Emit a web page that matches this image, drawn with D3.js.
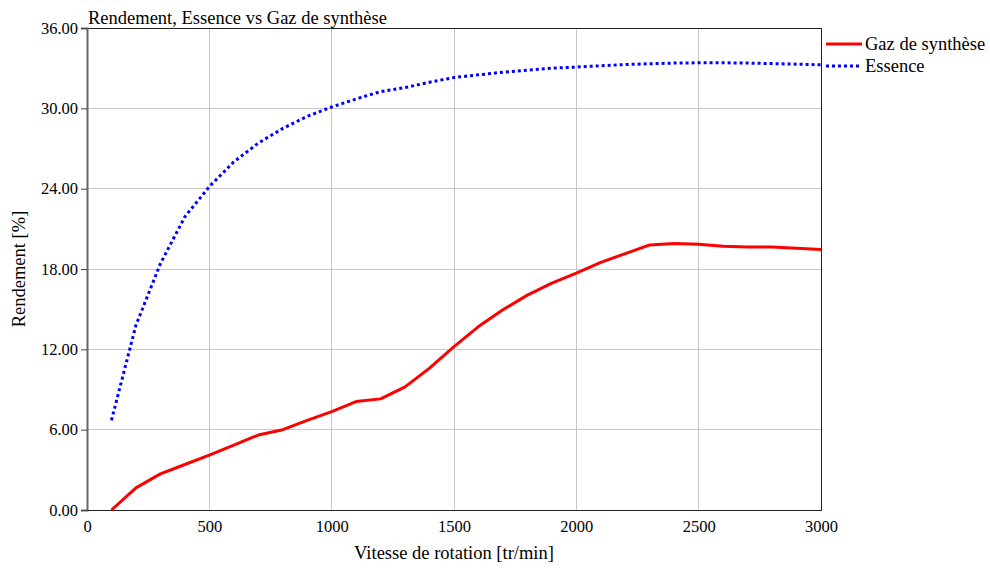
<!DOCTYPE html>
<html>
<head>
<meta charset="utf-8">
<script src="https://cdn.jsdelivr.net/npm/d3@7"></script>
<style>
  html, body { margin: 0; padding: 0; background: #fff; }
  svg { display: block; font-family: "Liberation Serif", "Times New Roman", serif; }
</style>
</head>
<body>
<svg id="chart" width="990" height="568"></svg>
<script>
// Engine speed (tr/min)
const vitesse = [100, 200, 300, 400, 500, 600, 700, 800, 900, 1000,
                 1100, 1200, 1300, 1400, 1500, 1600, 1700, 1800, 1900, 2000,
                 2100, 2200, 2300, 2400, 2500, 2600, 2700, 2800, 2900, 3000];
// Efficiency with syngas (%)
const gazSynthese = [0.0, 1.65, 2.7, 3.4, 4.1, 4.85, 5.6, 6.0, 6.7, 7.35,
                     8.1, 8.3, 9.2, 10.6, 12.2, 13.7, 14.95, 16.05, 16.95, 17.7,
                     18.5, 19.15, 19.8, 19.9, 19.85, 19.7, 19.65, 19.65, 19.55, 19.45];
// Efficiency with gasoline (%)
const essence = [6.7, 13.8, 18.4, 21.9, 24.15, 26.0, 27.4, 28.5, 29.4, 30.1,
                 30.7, 31.25, 31.55, 31.95, 32.3, 32.5, 32.7, 32.85, 33.0, 33.08,
                 33.18, 33.27, 33.33, 33.38, 33.4, 33.4, 33.38, 33.34, 33.3, 33.25];
const yTicks = [0, 6, 12, 18, 24, 30, 36];
const xTicks = [0, 500, 1000, 1500, 2000, 2500, 3000];
const series = [
  { name: "Gaz de synthèse", values: gazSynthese, color: "#ff0000", dash: null },
  { name: "Essence", values: essence, color: "#0000ff", dash: "3,3" }
];

const svg = d3.select("#chart");
const m = { left: 87, right: 821, top: 28, bottom: 510 };

const x = d3.scaleLinear().domain([0, 3000]).range([m.left, m.right]);
const y = d3.scaleLinear().domain([0, 36]).range([m.bottom, m.top]);

// grid
svg.append("g").selectAll("line.v").data(xTicks.slice(1, -1)).join("line")
  .attr("x1", d => x(d)).attr("x2", d => x(d))
  .attr("y1", m.top).attr("y2", m.bottom)
  .attr("stroke", "#c8c8c8").attr("stroke-width", 1)
  .attr("shape-rendering", "crispEdges");
svg.append("g").selectAll("line.h").data(yTicks.slice(1, -1)).join("line")
  .attr("x1", m.left).attr("x2", m.right)
  .attr("y1", d => y(d)).attr("y2", d => y(d))
  .attr("stroke", "#c8c8c8").attr("stroke-width", 1)
  .attr("shape-rendering", "crispEdges");

// frame
svg.append("rect")
  .attr("x", m.left).attr("y", m.top)
  .attr("width", m.right - m.left).attr("height", m.bottom - m.top)
  .attr("fill", "none").attr("stroke", "#222").attr("stroke-width", 1)
  .attr("shape-rendering", "crispEdges");

// y axis
const yAxis = d3.axisLeft(y).tickValues(yTicks).tickFormat(d3.format(".2f"))
  .tickSize(6).tickPadding(3);
const gy = svg.append("g").attr("transform", `translate(${m.left},0)`).call(yAxis);
gy.select(".domain").attr("stroke", "#666").attr("stroke-width", 2);
gy.selectAll(".tick line").attr("stroke", "#444");
gy.selectAll("text").attr("font-size", 16.5).attr("fill", "#000")
  .attr("font-family", "Liberation Serif, serif");

// x axis
const xAxis = d3.axisBottom(x).tickValues(xTicks).tickFormat(d3.format("d"))
  .tickSize(0).tickPadding(10);
const gx = svg.append("g").attr("transform", `translate(0,${m.bottom})`).call(xAxis);
gx.select(".domain").attr("stroke", "#222");
gx.selectAll("text").attr("font-size", 16.5).attr("fill", "#000")
  .attr("font-family", "Liberation Serif, serif");

// lines
const line = vals => d3.line()
  .x((d, i) => x(vitesse[i]))
  .y(d => y(d))(vals);

series.forEach(s => {
  svg.append("path")
    .attr("d", line(s.values))
    .attr("fill", "none")
    .attr("stroke", s.color)
    .attr("stroke-width", 3)
    .attr("stroke-dasharray", s.dash)
    .attr("stroke-linejoin", "round");
});

// title
svg.append("text")
  .attr("x", 88).attr("y", 24)
  .attr("font-size", 18.5).text("Rendement, Essence vs Gaz de synthèse");

// axis titles
svg.append("text")
  .attr("x", 454).attr("y", 559)
  .attr("text-anchor", "middle").attr("font-size", 18.5)
  .text("Vitesse de rotation [tr/min]");
svg.append("text")
  .attr("transform", `translate(25,${(m.top + m.bottom) / 2}) rotate(-90)`)
  .attr("text-anchor", "middle").attr("font-size", 18.5)
  .text("Rendement [%]");

// legend
const lg = svg.append("g");
series.forEach((s, i) => {
  const ly = 44 + i * 22;
  lg.append("line")
    .attr("x1", 826).attr("x2", 862).attr("y1", ly).attr("y2", ly)
    .attr("stroke", s.color).attr("stroke-width", 3)
    .attr("stroke-dasharray", s.dash);
  lg.append("text")
    .attr("x", 865).attr("y", ly + 6)
    .attr("font-size", 18.5).text(s.name);
});
</script>
</body>
</html>
